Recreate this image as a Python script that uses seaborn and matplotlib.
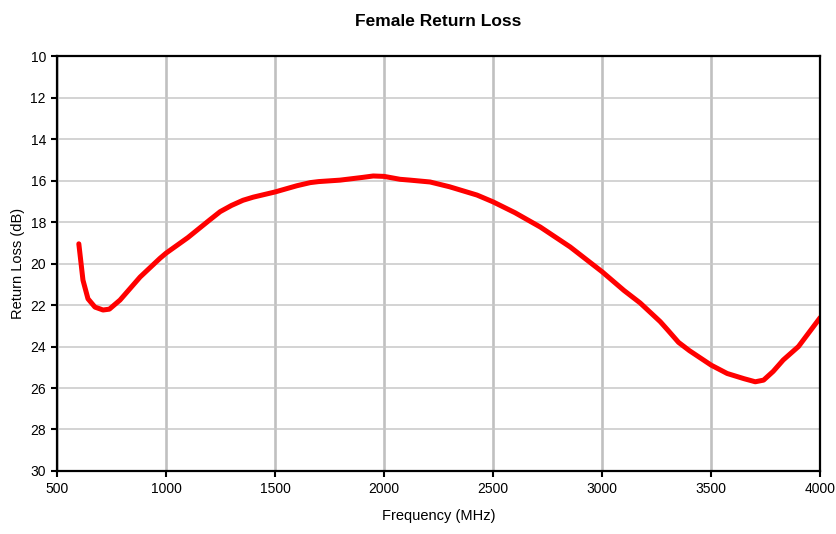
import matplotlib
matplotlib.use('agg')
import matplotlib.pyplot as plt
import seaborn as sns
import pandas as pd

# values
freq_mhz = [600, 619, 642, 674, 711, 740, 789, 881, 972, 1000, 1100, 1200, 1248,
            1300, 1353, 1400, 1500, 1600, 1661, 1700, 1798, 1900, 1950, 2000,
            2073, 2119, 2211, 2300, 2426, 2500, 2600, 2716, 2853, 3000, 3100,
            3174, 3266, 3300, 3350, 3400, 3450, 3500, 3573, 3650, 3702, 3740,
            3784, 3830, 3900, 4000]
return_loss_db = [19.05, 20.8, 21.7, 22.1, 22.24, 22.2, 21.76, 20.65, 19.75, 19.5,
                  18.75, 17.9, 17.5, 17.2, 16.95, 16.8, 16.55, 16.25, 16.1, 16.05,
                  15.98, 15.85, 15.78, 15.8, 15.94, 15.98, 16.07, 16.3, 16.7,
                  17.03, 17.55, 18.24, 19.2, 20.4, 21.3, 21.9, 22.8, 23.2, 23.8,
                  24.2, 24.55, 24.9, 25.3, 25.55, 25.7, 25.62, 25.2, 24.65, 24.0,
                  22.6]

df = pd.DataFrame({'freq': freq_mhz, 'rl': return_loss_db})

sns.set_style("white")
plt.rcParams['font.family'] = ['Liberation Sans', 'DejaVu Sans']
plt.rcParams['text.color'] = 'black'
plt.rcParams['axes.labelcolor'] = 'black'
plt.rcParams['xtick.color'] = 'black'
plt.rcParams['ytick.color'] = 'black'

fig = plt.figure(figsize=(8.36, 5.34), dpi=100)
ax = fig.add_axes([0.0682, 0.118, 0.913, 0.777])

ax.grid(axis='x', color='#c0c0c0', linewidth=1.9)
ax.grid(axis='y', color='#c8c8c8', linewidth=1.1)
ax.set_axisbelow(True)

sns.lineplot(data=df, x='freq', y='rl', color='#ff0000', linewidth=3.6,
             ax=ax, legend=False)

ax.set_xlim(500, 4000)
ax.set_ylim(30, 10)
ax.set_xticks(range(500, 4001, 500))
ax.set_yticks(range(10, 31, 2))
for s in ax.spines.values():
    s.set_color('black')
    s.set_linewidth(1.6)
    s.set_visible(True)
ax.tick_params(axis='both', direction='out', length=4, width=1.5, color='black',
               labelcolor='black', labelsize=10, pad=4, bottom=True, left=True)

ax.set_title('Female Return Loss', fontsize=12.5, fontweight='bold', pad=22,
             color='black')
ax.set_xlabel('Frequency (MHz)', fontsize=10.5, labelpad=9)
ax.set_ylabel('Return Loss (dB)', fontsize=10.5, labelpad=4)

fig.savefig('out.png', dpi=100)
